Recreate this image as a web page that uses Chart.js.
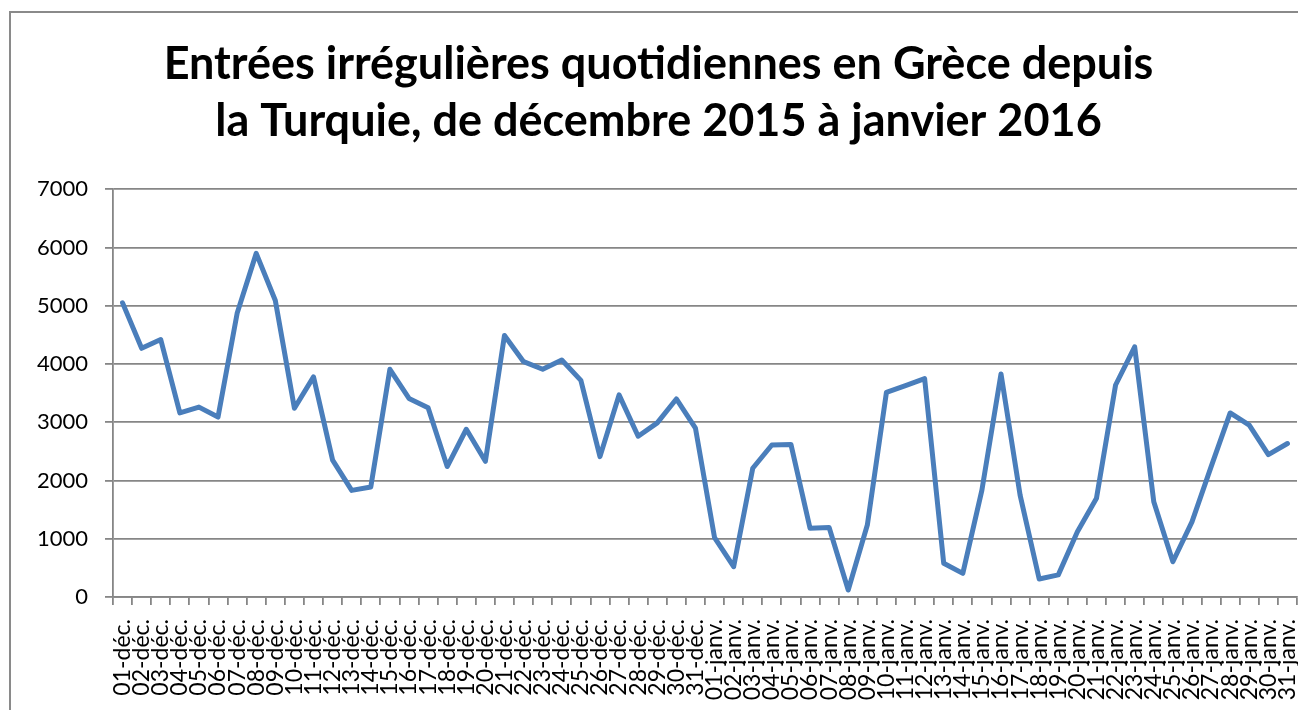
<!DOCTYPE html>
<html>
<head>
<meta charset="utf-8">
<script src="https://cdn.jsdelivr.net/npm/chart.js@4/dist/chart.umd.min.js"></script>
<style>
  html, body { margin: 0; padding: 0; background: #fff; overflow: hidden; width: 1298px; height: 710px; }
  #frame { position: absolute; left: 9px; top: 11px; width: 1400px; height: 800px; border: 2px solid #8a8a8a; }
  #chart { position: absolute; left: 0; top: 0; }
</style>
</head>
<body>
<div id="frame"></div>
<canvas id="chart" width="1298" height="747"></canvas>
<script>
const titleLines = ['Entrées irrégulières quotidiennes en Grèce depuis', 'la Turquie, de décembre 2015 à janvier 2016'];

const decLabels = ['01-déc.', '02-déc.', '03-déc.', '04-déc.', '05-déc.', '06-déc.', '07-déc.', '08-déc.', '09-déc.', '10-déc.',
  '11-déc.', '12-déc.', '13-déc.', '14-déc.', '15-déc.', '16-déc.', '17-déc.', '18-déc.', '19-déc.', '20-déc.',
  '21-déc.', '22-déc.', '23-déc.', '24-déc.', '25-déc.', '26-déc.', '27-déc.', '28-déc.', '29-déc.', '30-déc.', '31-déc.'];
const janLabels = ['01-janv.', '02-janv.', '03-janv.', '04-janv.', '05-janv.', '06-janv.', '07-janv.', '08-janv.', '09-janv.', '10-janv.',
  '11-janv.', '12-janv.', '13-janv.', '14-janv.', '15-janv.', '16-janv.', '17-janv.', '18-janv.', '19-janv.', '20-janv.',
  '21-janv.', '22-janv.', '23-janv.', '24-janv.', '25-janv.', '26-janv.', '27-janv.', '28-janv.', '29-janv.', '30-janv.', '31-janv.'];

const decValues = [5050, 4270, 4420, 3160, 3260, 3090, 4870, 5900, 5090, 3240, 3780, 2350, 1830, 1890, 3910, 3410,
  3250, 2240, 2880, 2330, 4490, 4040, 3910, 4070, 3720, 2410, 3470, 2760, 2990, 3400, 2900];
const janValues = [1020, 520, 2210, 2610, 2620, 1180, 1195, 120, 1235, 3515, 3630, 3750, 580, 405, 1835, 3830,
  1750, 310, 380, 1120, 1695, 3640, 4295, 1635, 605, 1290, 2235, 3160, 2950, 2445, 2635];

const yMin = 0, yMax = 7000, yStep = 1000;

const gridColor = '#868686';

new Chart(document.getElementById('chart'), {
  type: 'line',
  data: {
    labels: decLabels.concat(janLabels),
    datasets: [{
      data: decValues.concat(janValues),
      borderColor: '#4a7ebb',
      borderWidth: 5,
      pointRadius: 0,
      tension: 0,
      borderJoinStyle: 'round',
      borderCapStyle: 'round'
    }]
  },
  options: {
    responsive: false,
    animation: false,
    layout: { padding: { left: 20, right: 1, top: 0, bottom: 0 } },
    plugins: {
      legend: { display: false },
      tooltip: { enabled: false },
      title: {
        display: true,
        text: titleLines,
        color: '#000',
        font: { family: 'Lato', size: 45, weight: 'bold', lineHeight: 1.27 },
        padding: { top: 36, bottom: 39 }
      }
    },
    scales: {
      x: {
        offset: true,
        grid: { drawOnChartArea: false, drawTicks: true, tickLength: 8, color: gridColor, lineWidth: 1.8, offset: true },
        border: { color: gridColor, width: 1.8 },
        ticks: {
          autoSkip: false, minRotation: 90, maxRotation: 90, padding: 14,
          color: '#000', font: { family: 'Lato', size: 23 }
        },
        afterFit: s => { s.height = 150; s.paddingLeft = 0; s.paddingRight = 0; }
      },
      y: {
        min: yMin, max: yMax,
        grid: { color: gridColor, lineWidth: 1.8, tickLength: 8 },
        border: { color: gridColor, width: 1.8 },
        ticks: {
          stepSize: yStep, padding: 17, color: '#000', font: { family: 'Lato', size: 22 },
          callback: v => String(v)
        },
        afterFit: s => { s.width = 93; }
      }
    }
  }
});
</script>
</body>
</html>
